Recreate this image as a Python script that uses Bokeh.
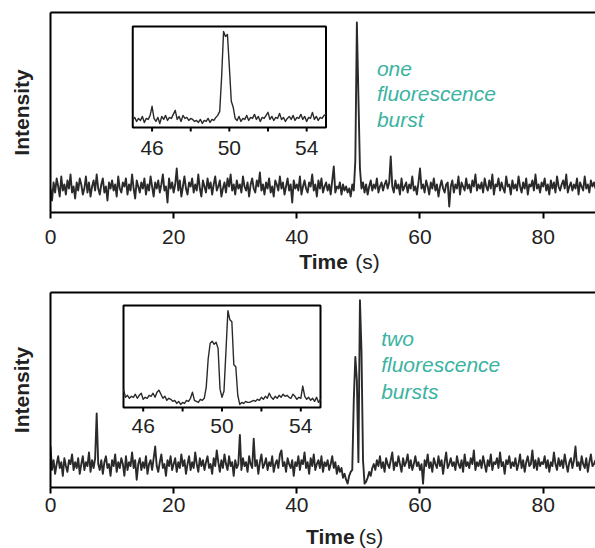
import numpy as np
from bokeh.plotting import figure
from bokeh.models import Range1d, LinearAxis, FixedTicker, Label, ColumnDataSource
from bokeh.layouts import column
from bokeh.embed import file_html
from bokeh.resources import INLINE
from bokeh.core.properties import value

# ---------------- data ----------------
T_STEP = 0.25          # s, main traces start at 0 s
INSET_T0 = 45.0        # s, inset traces start
INSET_STEP = 0.1       # s

top_intensity = [
    12, 6, 15, 10, 17, 13, 8, 18, 11, 14, 9, 16, 12, 19, 10, 13, 7, 15, 11, 17,
    14, 9, 12, 18, 10, 15, 8, 13, 16, 11, 19, 12, 9, 14, 17, 10, 13, 6, 15, 12,
    16, 11, 14, 8, 18, 12, 10, 15, 13, 17, 9, 14, 11, 19, 12, 7, 16, 13, 10, 15,
    12, 17, 9, 14, 11, 18, 13, 8, 15, 12, 16, 10, 14, 19, 11, 13, 5, 17, 12, 15,
    10, 14, 22, 11, 16, 8, 13, 18, 12, 9, 15, 13, 17, 10, 14, 11, 19, 12, 8, 16,
    13, 10, 17, 12, 15, 9, 14, 18, 11, 13, 16, 8, 12, 15, 10, 17, 13, 19, 11, 14,
    9, 16, 12, 14, 10, 18, 13, 11, 15, 8, 14, 17, 12, 10, 16, 13, 20, 11, 14, 9,
    15, 12, 17, 10, 13, 8, 16, 14, 11, 18, 12, 15, 9, 13, 17, 11, 14, 5, 16, 12,
    14, 11, 18, 9, 13, 16, 12, 10, 15, 13, 19, 11, 14, 8, 16, 12, 17, 10, 13, 15,
    11, 14, 9, 16, 23, 10, 13, 12, 15, 9, 14, 11, 13, 10, 12, 8, 14, 11, 26, 95,
    58, 22, 12, 15, 10, 14, 9, 13, 16, 11, 14, 12, 17, 10, 13, 15, 11, 14, 16, 12,
    15, 28, 13, 10, 16, 12, 14, 9, 17, 11, 13, 15, 10, 14, 12, 18, 11, 13, 9, 15,
    22, 12, 14, 10, 16, 13, 9, 15, 12, 17, 11, 14, 8, 13, 16, 12, 10, 14, 15, 3,
    13, 16, 10, 14, 12, 18, 9, 15, 13, 11, 17, 12, 14, 10, 16, 13, 19, 11, 14, 12,
    15, 10, 17, 13, 11, 16, 12, 19, 9, 14, 13, 17, 11, 15, 12, 10, 18, 13, 14, 9,
    16, 12, 14, 11, 18, 13, 10, 15, 12, 17, 9, 14, 13, 16, 11, 19, 12, 14, 10, 15,
    13, 17, 11, 14, 9, 16, 12, 15, 10, 18, 13, 11, 14, 16, 12, 19, 10, 13, 15, 11,
    14, 12, 17, 9, 15, 13, 11, 18, 12, 14, 10, 16, 13, 15, 12,
]

bottom_intensity = [
    21, 9, 14, 7, 12, 16, 10, 13, 6, 15, 11, 8, 14, 12, 17, 9, 13, 10, 15, 7,
    12, 16, 9, 13, 11, 18, 8, 14, 10, 15, 38, 12, 9, 14, 7, 13, 16, 10, 12, 6,
    14, 11, 17, 8, 13, 10, 15, 12, 6, 16, 9, 13, 11, 18, 10, 14, 4, 12, 15, 9,
    13, 10, 16, 7, 12, 14, 9, 15, 21, 11, 8, 13, 17, 10, 12, 6, 14, 11, 16, 9,
    12, 15, 8, 13, 10, 17, 11, 14, 7, 12, 16, 9, 13, 10, 18, 12, 8, 15, 11, 14,
    9, 13, 16, 10, 12, 7, 15, 11, 19, 13, 8, 14, 10, 17, 12, 9, 16, 11, 13, 6,
    14, 10, 12, 27, 9, 15, 11, 13, 8, 16, 12, 10, 25, 11, 14, 7, 13, 17, 10, 12,
    15, 9, 13, 11, 16, 8, 12, 14, 10, 17, 19, 11, 13, 8, 15, 12, 10, 14, 6, 13,
    11, 16, 9, 14, 12, 18, 10, 13, 7, 15, 11, 17, 9, 12, 14, 10, 16, 8, 13, 11,
    14, 9, 12, 16, 10, 13, 7, 11, 8, 10, 5, 7, 4, 2, 6, 8, 9, 45, 67, 55,
    13, 96, 70, 14, 2, 3, 5, 8, 6, 10, 12, 9, 14, 11, 16, 10, 13, 8, 15, 12,
    10, 14, 18, 9, 13, 11, 16, 12, 8, 15, 11, 13, 17, 10, 14, 9, 12, 16, 11, 13,
    9, 12, 2, 14, 11, 17, 10, 13, 8, 15, 12, 10, 16, 11, 14, 7, 13, 18, 10, 12,
    15, 11, 13, 9, 16, 12, 10, 14, 8, 17, 11, 13, 10, 15, 12, 19, 9, 13, 11, 14,
    10, 16, 12, 8, 14, 11, 17, 9, 13, 12, 15, 10, 18, 11, 13, 7, 14, 12, 16, 10,
    13, 11, 15, 9, 12, 17, 10, 14, 8, 13, 16, 11, 12, 19, 10, 14, 9, 15, 11, 13,
    12, 16, 10, 14, 8, 13, 11, 18, 12, 9, 15, 11, 14, 10, 17, 12, 8, 13, 15, 10,
    14, 21, 11, 13, 9, 16, 12, 10, 15, 8, 13, 17, 11, 12, 14,
]

top_inset = [
    8, 10, 6, 9, 7, 11, 5, 9, 8, 12,
    21, 9, 6, 10, 4, 11, 8, 12, 7, 10,
    9, 13, 17, 8, 11, 6, 12, 9, 10, 7,
    9, 8, 6, 7, 5, 8, 4, 7, 6, 9,
    5, 8, 7, 10, 12, 16, 50, 95, 90, 92,
    60, 26, 20, 9, 7, 11, 6, 9, 8, 12,
    7, 10, 9, 13, 8, 11, 6, 10, 9, 12,
    15, 8, 11, 7, 10, 9, 14, 8, 10, 6,
    9, 11, 8, 12, 7, 10, 9, 13, 8, 11,
    6, 10, 9, 15, 8, 11, 7, 10, 9, 12,
    13,
]

bottom_inset = [
    18, 10, 12, 9, 11, 10, 13, 9, 12, 14,
    8, 10, 9, 12, 11, 14, 10, 15, 17, 13,
    9, 11, 7, 9, 8, 6, 7, 4, 6, 3,
    5, 4, 7, 6, 9, 15, 7, 6, 5, 8,
    7, 9, 20, 48, 63, 65, 62, 64, 58, 18,
    10, 16, 55, 95, 86, 84, 42, 40, 12, 3,
    5, 4, 6, 5, 5, 6, 7, 6, 8, 7,
    10, 8, 11, 9, 14, 10, 8, 11, 9, 12,
    10, 13, 11, 12, 10, 9, 13, 11, 8, 10,
    9, 21, 11, 8, 10, 7, 9, 6, 10, 5,
    8,
]

main_ticks = [0, 20, 40, 60, 80]
inset_label_ticks = [46, 50, 54]
inset_all_ticks = [46, 48, 50, 52, 54]
top_note = ["one", "fluorescence", "burst"]
bottom_note = ["two", "fluorescence", "bursts"]

# ---------------- styling ----------------
FONT = "Liberation Sans"
FS = "21px"
TEAL = "#3ab3a1"
INK = "#222222"
TRACE = "#2a2a2a"
FIG_W = 595
X_END = 88.5
INSET_X = (45.0, 55.0)
INSET_Y = (0.0, 100.0)


def inset_ranges(frame_w, frame_h, box):
    l, r, b, t = box
    sx = (INSET_X[1] - INSET_X[0]) / (r - l)
    sy = (INSET_Y[1] - INSET_Y[0]) / (t - b)
    xr = Range1d(INSET_X[0] - l * sx, INSET_X[1] + (frame_w - r) * sx)
    yr = Range1d(INSET_Y[0] - b * sy, INSET_Y[1] + (frame_h - t) * sy)
    return xr, yr, sy


def panel(vals, ivals, note, height, top_border, frame_h, left, box,
          tick_standoff, ylab_standoff, note_x, note_ys, ilab_px):
    frame_w = FIG_W - left
    p = figure(width=FIG_W, height=height, x_range=Range1d(0, X_END),
               y_range=Range1d(0, 100), output_backend="svg",
               toolbar_location=None, min_border_left=left, min_border_right=0,
               min_border_top=top_border,
               min_border_bottom=height - top_border - frame_h,
               outline_line_color=None)
    p.xgrid.visible = False
    p.ygrid.visible = False

    ax = p.xaxis[0]
    ax.ticker = FixedTicker(ticks=main_ticks)
    ax.axis_line_width = 2
    ax.axis_line_color = "black"
    ax.major_tick_line_width = 2
    ax.major_tick_line_color = "black"
    ax.major_tick_out = 6
    ax.major_tick_in = 0
    ax.minor_tick_line_color = None
    ax.major_label_text_font = FONT
    ax.major_label_text_font_size = FS
    ax.major_label_text_color = INK
    ax.major_label_standoff = tick_standoff

    ay = p.yaxis[0]
    ay.ticker = FixedTicker(ticks=[])
    ay.axis_line_width = 2
    ay.axis_line_color = "black"
    ay.major_tick_line_color = None
    ay.minor_tick_line_color = None
    ay.major_label_standoff = 0
    ay.axis_label = "Intensity"
    ay.axis_label_text_font = FONT
    ay.axis_label_text_font_size = FS
    ay.axis_label_text_font_style = "bold"
    ay.axis_label_text_color = INK
    ay.axis_label_standoff = ylab_standoff

    top = LinearAxis(ticker=FixedTicker(ticks=[]), axis_line_width=2,
                     axis_line_color="black", major_tick_line_color=None,
                     minor_tick_line_color=None, major_label_standoff=0,
                     axis_label_standoff=0, major_tick_out=0, major_tick_in=0)
    p.add_layout(top, "above")

    t = np.arange(len(vals)) * T_STEP
    p.line(x="t", y="v", source=ColumnDataSource(dict(t=t, v=vals)),
           line_color=TRACE, line_width=1.9, line_join="round")

    ixr, iyr, sy = inset_ranges(frame_w, frame_h, box)
    p.extra_x_ranges = {"ix": ixr}
    p.extra_y_ranges = {"iy": iyr}
    p.quad(left=[INSET_X[0]], right=[INSET_X[1]], bottom=[INSET_Y[0]],
           top=[INSET_Y[1]], fill_color="white", line_color="black",
           line_width=2, x_range_name="ix", y_range_name="iy")
    it = INSET_T0 + np.arange(len(ivals)) * INSET_STEP
    p.line(x="t", y="v", source=ColumnDataSource(dict(t=it, v=ivals)),
           line_color=TRACE, line_width=1.4, line_join="round",
           x_range_name="ix", y_range_name="iy")
    p.segment(x0=inset_all_ticks, x1=inset_all_ticks,
              y0=[INSET_Y[0]] * len(inset_all_ticks),
              y1=[INSET_Y[0] - 4 * sy] * len(inset_all_ticks),
              line_color="black", line_width=2,
              x_range_name="ix", y_range_name="iy")
    p.text(x=inset_label_ticks,
           y=[INSET_Y[0] - ilab_px * sy] * len(inset_label_ticks),
           text=[str(v) for v in inset_label_ticks],
           text_font=value(FONT), text_font_size=value(FS), text_color=INK,
           text_align="center", text_baseline="middle",
           x_range_name="ix", y_range_name="iy")

    for line, yy in zip(note, note_ys):
        p.add_layout(Label(x=note_x, y=yy, text=line, text_font=FONT,
                           text_font_size=FS, text_font_style="italic",
                           text_color=TEAL, text_baseline="middle",
                           text_align="left"))
    return p


def time_label(height, left, time_x, s_x, mid_y):
    q = figure(width=FIG_W, height=height, x_range=Range1d(0, X_END),
               y_range=Range1d(0, height), output_backend="svg",
               toolbar_location=None, x_axis_location=None,
               y_axis_location=None, min_border_left=left, min_border_right=0,
               min_border_top=0, min_border_bottom=0, outline_line_color=None)
    q.xgrid.visible = False
    q.ygrid.visible = False
    q.text(x=[time_x], y=[mid_y], text=["Time"], text_font=value(FONT),
           text_font_size=value(FS), text_font_style="bold", text_color=INK,
           text_align="left", text_baseline="middle")
    q.text(x=[s_x], y=[mid_y], text=["(s)"], text_font=value(FONT),
           text_font_size=value(FS), text_color=INK,
           text_align="left", text_baseline="middle")
    return q


p1 = panel(top_intensity, top_inset, top_note, height=250, top_border=12,
           frame_h=200, left=45, box=(83, 278, 85, 186), tick_standoff=11,
           ylab_standoff=18, note_x=53.0, note_ys=[72.1, 59.6, 46.6],
           ilab_px=20)
l1 = time_label(38, 45, 40.4, 49.5, 27)
p2 = panel(bottom_intensity, bottom_inset, bottom_note, height=227,
           top_border=4, frame_h=195, left=50, box=(73, 270, 80, 182),
           tick_standoff=4, ylab_standoff=18, note_x=53.7,
           note_ys=[76.6, 62.9, 49.2], ilab_px=18.5)
l2 = time_label(33, 50, 41.5, 50.07, 12.3)

layout = column(p1, l1, p2, l2, spacing=0)
open("out.html", "w").write(file_html(layout, INLINE))
